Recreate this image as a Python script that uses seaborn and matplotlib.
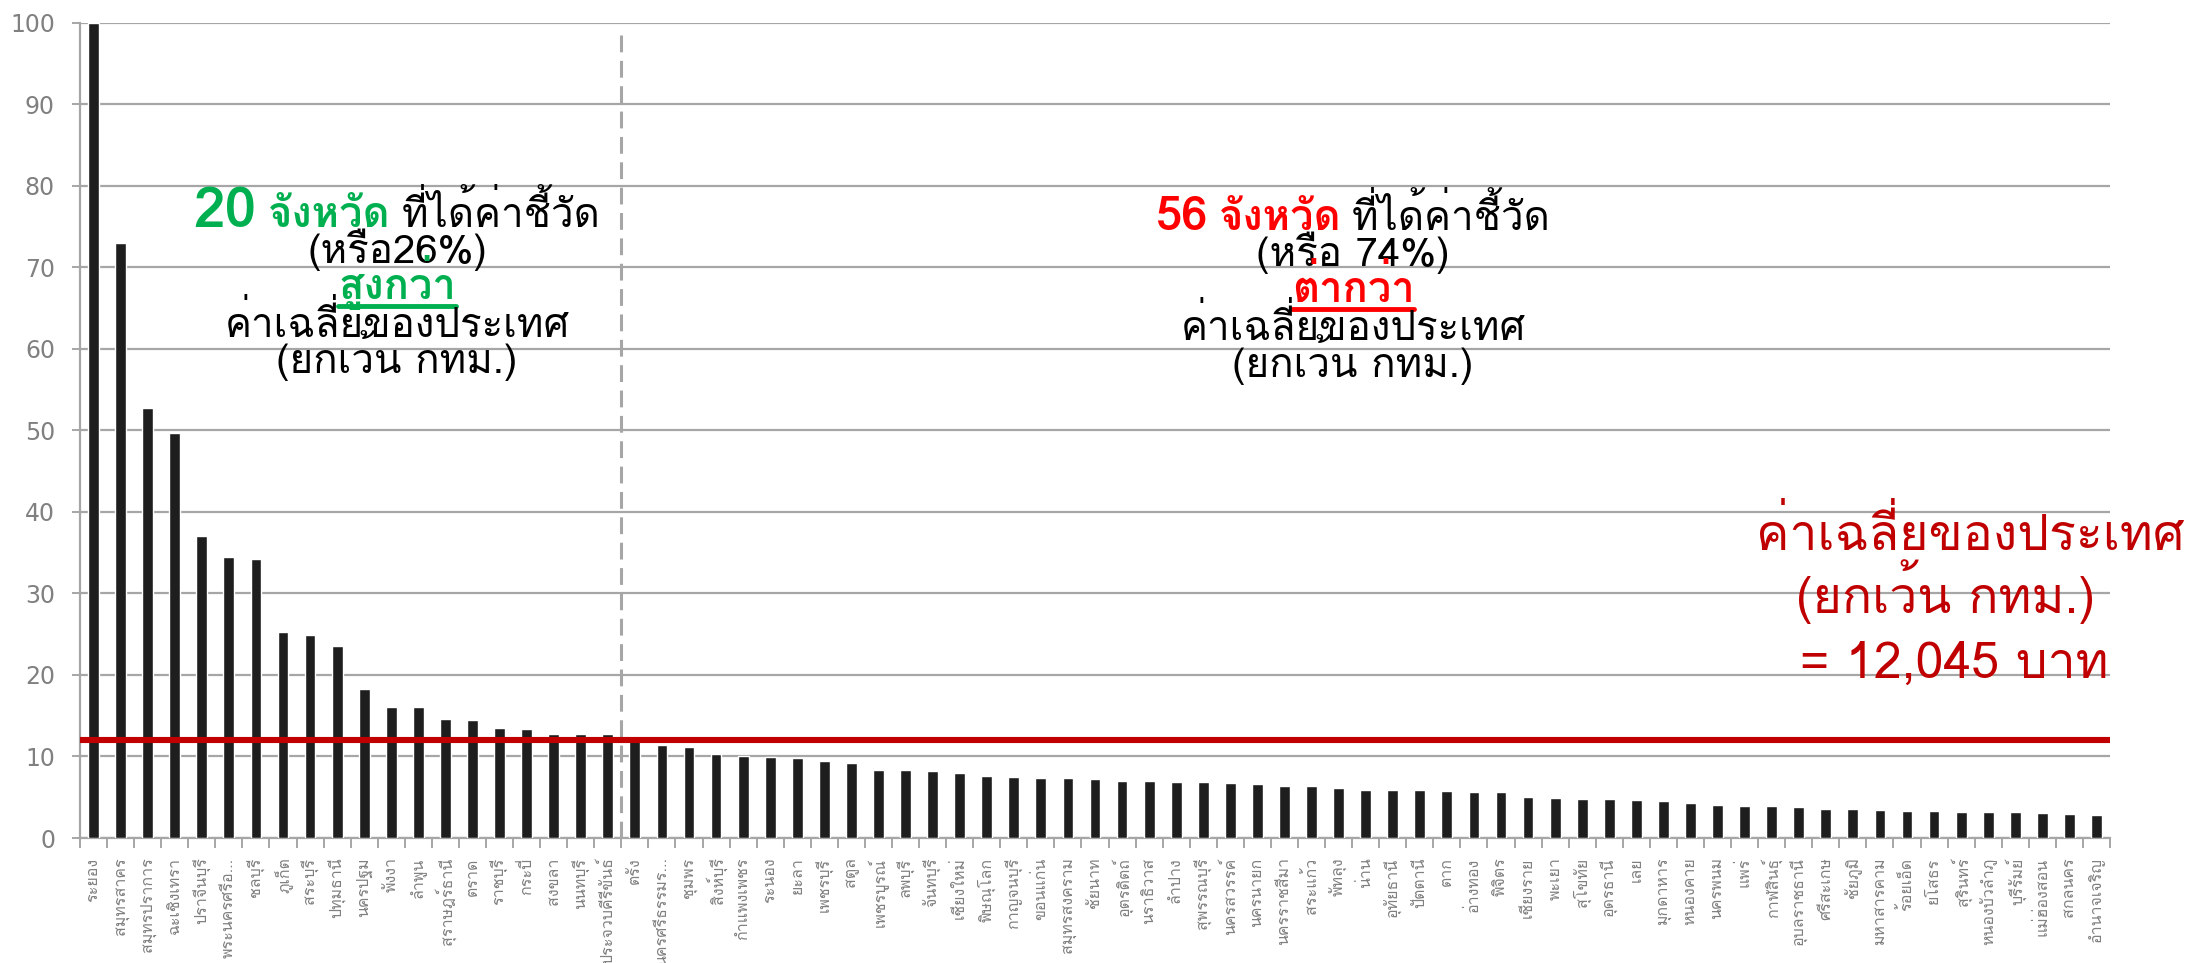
import numpy as np
import pandas as pd
import seaborn as sns
import matplotlib
matplotlib.use("Agg")
import matplotlib.pyplot as plt
from matplotlib import font_manager as fm
from matplotlib.lines import Line2D
from matplotlib.transforms import IdentityTransform
from fontTools.ttLib import TTFont

# ---------------------------------------------------------------- data
provinces = [
    "ระยอง", "สมุทรสาคร", "สมุทรปราการ", "ฉะเชิงเทรา", "ปราจีนบุรี",
    "พระนครศรีอ...", "ชลบุรี", "ภูเก็ต", "สระบุรี", "ปทุมธานี",
    "นครปฐม", "พังงา", "ลำพูน", "สุราษฎร์ธานี", "ตราด",
    "ราชบุรี", "กระบี่", "สงขลา", "นนทบุรี", "ประจวบคีรีขันธ์",
    "ตรัง", "นครศรีธรรมร...", "ชุมพร", "สิงห์บุรี", "กำแพงเพชร",
    "ระนอง", "ยะลา", "เพชรบุรี", "สตูล", "เพชรบูรณ์",
    "ลพบุรี", "จันทบุรี", "เชียงใหม่", "พิษณุโลก", "กาญจนบุรี",
    "ขอนแก่น", "สมุทรสงคราม", "ชัยนาท", "อุตรดิตถ์", "นราธิวาส",
    "ลำปาง", "สุพรรณบุรี", "นครสวรรค์", "นครนายก", "นครราชสีมา",
    "สระแก้ว", "พัทลุง", "น่าน", "อุทัยธานี", "ปัตตานี",
    "ตาก", "อ่างทอง", "พิจิตร", "เชียงราย", "พะเยา",
    "สุโขทัย", "อุดรธานี", "เลย", "มุกดาหาร", "หนองคาย",
    "นครพนม", "แพร่", "กาฬสินธุ์", "อุบลราชธานี", "ศรีสะเกษ",
    "ชัยภูมิ", "มหาสารคาม", "ร้อยเอ็ด", "ยโสธร", "สุรินทร์",
    "หนองบัวลำภู", "บุรีรัมย์", "แม่ฮ่องสอน", "สกลนคร", "อำนาจเจริญ",
]
values = [
    100.0, 73.0, 52.8, 49.7, 37.1,
    34.5, 34.2, 25.3, 24.9, 23.5,
    18.3, 16.1, 16.1, 14.6, 14.5,
    13.5, 13.4, 12.8, 12.8, 12.8,
    11.9, 11.4, 11.2, 10.3, 10.0,
    9.9, 9.8, 9.4, 9.2, 8.4,
    8.3, 8.2, 8.0, 7.6, 7.5,
    7.4, 7.3, 7.2, 7.0, 7.0,
    6.9, 6.9, 6.8, 6.6, 6.4,
    6.4, 6.1, 5.9, 5.9, 5.9,
    5.8, 5.7, 5.6, 5.0, 4.9,
    4.8, 4.8, 4.7, 4.5, 4.3,
    4.0, 3.9, 3.9, 3.8, 3.6,
    3.5, 3.4, 3.3, 3.3, 3.2,
    3.2, 3.2, 3.1, 3.0, 2.8,
]
national_avg = 12.045          # ค่าเฉลี่ยของประเทศ (ยกเว้น กทม.), thousand baht
n_above = 20                   # provinces above the national average
y_ticks = list(range(0, 101, 10))

# ---------------------------------------------------------------- fonts
def find_thai_family():
    preferred = ["Tahoma", "Loma", "Garuda", "Noto Sans Thai", "Noto Sans Thai UI",
                 "Sarabun", "Waree", "Umpush", "Kinnari", "Norasi", "Laksaman",
                 "Noto Looped Thai", "Noto Serif Thai"]
    found = {}
    for f in fm.fontManager.ttflist:
        try:
            cmap = TTFont(f.fname, fontNumber=0, lazy=True).getBestCmap()
        except Exception:
            continue
        if cmap and 0x0E01 in cmap and 0x0E48 in cmap:
            found.setdefault(f.name, f.fname)
    for p in preferred:
        if p in found:
            return p
    return sorted(found)[0] if found else "DejaVu Sans"

sns.set_theme(style="white")
thai = find_thai_family()
plt.rcParams["font.family"] = [thai, "DejaVu Sans"]

GRID = "#A6A6A6"
TICK_TXT = "#808080"
BAR = "#1E1E1E"
GREEN = "#00B050"
RED = "#FF0000"
DARKRED = "#C00000"

W, H = 2190, 963
fig = plt.figure(figsize=(W / 100, H / 100), dpi=100)
fig.patch.set_facecolor("white")
left, right, top, bottom = 80, 2110, 22.7, 838
ax = fig.add_axes([left / W, 1 - bottom / H, (right - left) / W, (bottom - top) / H])

df = pd.DataFrame({"province": provinces, "value": values})
sns.barplot(data=df, x="province", y="value", color=BAR, saturation=1,
            width=0.4, ax=ax, zorder=3)

ax.set_xlim(-0.5, len(provinces) - 0.5)
ax.set_ylim(0, 100)
ax.set_yticks(y_ticks)
ax.set_xlabel("")
ax.set_ylabel("")
ax.yaxis.grid(True, color=GRID, lw=1.6, zorder=0)
ax.xaxis.grid(False)
ax.set_axisbelow(True)
for s in ("top", "right"):
    ax.spines[s].set_visible(False)
for s in ("left", "bottom"):
    ax.spines[s].set_color(GRID)
    ax.spines[s].set_linewidth(1.6)

ax.tick_params(axis="y", colors=GRID, labelcolor=TICK_TXT, labelsize=17,
               length=6, width=1.4, direction="out", left=True, pad=12)
ax.set_xticks(np.arange(len(provinces)))
ax.set_xticklabels(provinces, rotation=90, ha="center", va="top",
                   color=TICK_TXT, fontsize=11.5)
ax.tick_params(axis="x", which="major", length=0, pad=14)
ax.set_xticks(np.arange(-0.5, len(provinces), 1), minor=True)
ax.tick_params(axis="x", which="minor", length=7, width=1.4, colors=GRID,
               direction="out", bottom=True)
for lbl in ax.get_yticklabels():
    lbl.set_family("DejaVu Sans")

# national average and the split between the two groups
ax.axhline(national_avg, color=DARKRED, lw=4.4, zorder=5)
ax.vlines(n_above - 0.5, 0, 98.5, colors=GRID, lw=2.2,
          linestyles=(0, (5.5, 2.8)), zorder=4)

# ---------------------------------------------------------------- annotations
renderer = fig.canvas.get_renderer()
ID = IdentityTransform()


def text_line(parts, cx, baseline, gap=11):
    """Place coloured text runs side by side, centred on cx, on one baseline."""
    items, total = [], 0
    for i, (s, kw) in enumerate(parts):
        t = fig.text(0, 0, s, transform=ID, ha="left", va="baseline", **kw)
        w = t.get_window_extent(renderer).width
        items.append((t, w))
        total += w + (gap if i < len(parts) - 1 else 0)
    x = cx - total / 2
    for t, w in items:
        t.set_position((x, H - baseline))
        x += w + gap
    return items


def underline(item, baseline, color, below=7, lw=3.5):
    t, w = item
    x0 = t.get_position()[0]
    y = H - baseline - below
    fig.add_artist(Line2D([x0, x0 + w], [y, y], transform=ID, color=color, lw=lw))


reg = dict(fontsize=29, color="black")
# left group
cx = 397
text_line([("20", dict(fontsize=41, color=GREEN, fontweight="bold")),
           ("จังหวัด", dict(fontsize=30, color=GREEN, fontweight="bold")),
           ("ที่ได้ค่าชี้วัด", reg)], cx, 227)
text_line([("(หรือ26%)", reg)], cx, 263)
it = text_line([("สูงกว่า", dict(fontsize=30, color=GREEN, fontweight="bold"))], cx, 299)
underline(it[0], 299, GREEN)
text_line([("ค่าเฉลี่ยของประเทศ", reg)], cx, 337)
text_line([("(ยกเว้น กทม.)", reg)], cx, 373)

# right group
cx = 1353
text_line([("56", dict(fontsize=34, color=RED, fontweight="bold")),
           ("จังหวัด", dict(fontsize=30, color=RED, fontweight="bold")),
           ("ที่ได้ค่าชี้วัด", reg)], cx, 230)
text_line([("(หรือ 74%)", reg)], cx, 266)
it = text_line([("ต่ากว่า", dict(fontsize=30, color=RED, fontweight="bold"))], cx, 302)
underline(it[0], 302, RED)
text_line([("ค่าเฉลี่ยของประเทศ", reg)], cx, 340)
text_line([("(ยกเว้น กทม.)", reg)], cx, 377)

# national-average callout on the right
big = dict(fontsize=36, color=DARKRED)
text_line([("ค่าเฉลี่ยของประเทศ", big)], 1970, 550)
text_line([("(ยกเว้น กทม.)", big)], 1945, 613)
text_line([("= 12,045 บาท", big)], 1954, 678)

fig.savefig("out.png", dpi=100, facecolor="white")
